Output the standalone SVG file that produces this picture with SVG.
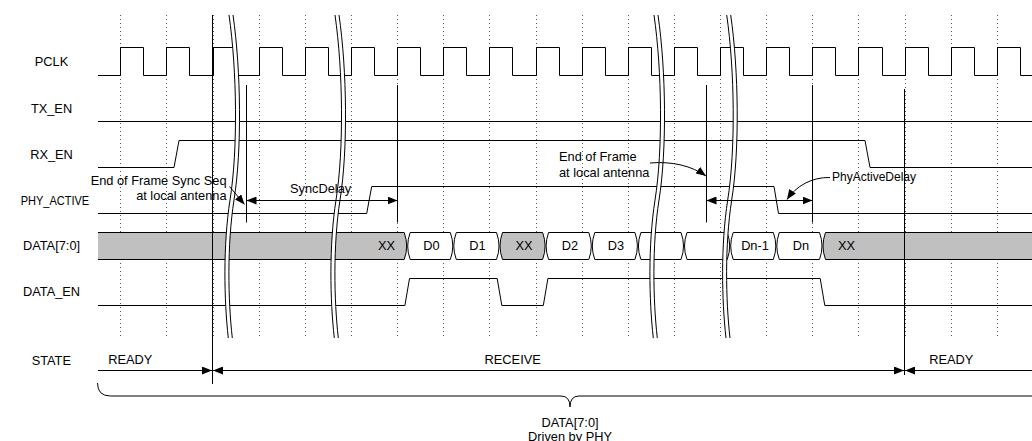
<svg xmlns="http://www.w3.org/2000/svg" xmlns:xlink="http://www.w3.org/1999/xlink" width="1032" height="441" viewBox="0 0 1032 441">
<style>
text{font-family:"Liberation Sans",Arial,sans-serif;font-size:12.8px;fill:#000}
.lbl{text-anchor:middle}
.mid{text-anchor:middle}
.end{text-anchor:end}
.grid{stroke:#555;stroke-width:1;stroke-dasharray:1 3;fill:none}
.sig{fill:none;stroke:#000;stroke-width:1}
.seg{fill:#fff;stroke:#000;stroke-width:1}
.gfill{fill:#c0c0c0;stroke:none}
.ln{fill:none;stroke:#000;stroke-width:1}
</style>
<defs>
<marker id="ah" viewBox="0 0 10 8" refX="10" refY="4" markerWidth="10" markerHeight="8" markerUnits="userSpaceOnUse" orient="auto-start-reverse"><path d="M0,0 L10,4 L0,8 z" fill="#000"/></marker>
<g id="brk">
<path d="M0,15 C8,70 9,150 1,200 C-6,245 -5,300 -0.7,338 L3.3,338 C-1,300 -2,245 5,200 C13,150 12,70 4,15 Z" fill="#fff" stroke="none"/>
<path d="M0,15 C8,70 9,150 1,200 C-6,245 -5,300 -0.7,338 M4,15 C12,70 13,150 5,200 C-2,245 -1,300 3.3,338" fill="none" stroke="#000" stroke-width="1"/>
</g>
</defs>
<rect width="1032" height="441" fill="#fff"/>
<g id="grid">
<path class="grid" d="M120.5,15V338M166.5,15V338M213.5,15V338M259.5,15V338M305.5,15V338M351.5,15V338M397.5,15V338M443.5,15V338M489.5,15V338M536.5,15V338M582.5,15V338M628.5,15V338M674.5,15V338M720.5,15V338M766.5,15V338M812.5,15V338M858.5,15V338M905.5,15V338M951.5,15V338M997.5,15V338"/>
</g>
<g id="pclk">
<text class="lbl" x="51.5" y="66">PCLK</text>
<path class="sig" d="M98,75.5 H120.5 V47.5 H143.5 V75.5 H166.5 V47.5 H189.5 V75.5 H213.5 V47.5 H236.5 V75.5 H259.5 V47.5 H282.5 V75.5 H305.5 V47.5 H328.5 V75.5 H351.5 V47.5 H374.5 V75.5 H397.5 V47.5 H420.5 V75.5 H443.5 V47.5 H466.5 V75.5 H489.5 V47.5 H512.5 V75.5 H536.5 V47.5 H559.5 V75.5 H582.5 V47.5 H605.5 V75.5 H628.5 V47.5 H651.5 V75.5 H674.5 V47.5 H697.5 V75.5 H720.5 V47.5 H743.5 V75.5 H766.5 V47.5 H789.5 V75.5 H812.5 V47.5 H835.5 V75.5 H858.5 V47.5 H882.5 V75.5 H905.5 V47.5 H928.5 V75.5 H951.5 V47.5 H974.5 V75.5 H997.5 V47.5 H1020.5 V75.5 H1032"/>
</g>
<g id="tx_en">
<text class="lbl" x="51.5" y="113">TX_EN</text>
<path class="sig" d="M98,121.5 H1032"/>
</g>
<g id="rx_en">
<text class="lbl" x="51.5" y="159">RX_EN</text>
<path class="sig" d="M98,167.5 H174 L179,140.5 H865 L870,167.5 H1032"/>
</g>
<g id="phy_active">
<text x="20.7" y="205" textLength="68.5" lengthAdjust="spacingAndGlyphs">PHY_ACTIVE</text>
<path class="sig" d="M98,213.5 H366.7 L371.7,186.5 H774 L778.5,213.5 H1032"/>
</g>
<g id="data">
<text class="lbl" x="51.5" y="250">DATA[7:0]</text>
<path class="gfill" d="M98,232.5 H404.2 Q409.2,246 404.2,259.5 H98 Z"/>
<path class="ln" d="M98,232.5 H404.2 Q409.2,246 404.2,259.5 H98"/>
<path class="seg" d="M410.2,232.5 H450.3 Q455.3,246 450.3,259.5 H410.2 Q405.2,246 410.2,232.5 Z"/>
<path class="seg" d="M456.3,232.5 H496.5 Q501.5,246 496.5,259.5 H456.3 Q451.3,246 456.3,232.5 Z"/>
<path class="seg" style="fill:#c0c0c0" d="M502.5,232.5 H542.6 Q547.6,246 542.6,259.5 H502.5 Q497.5,246 502.5,232.5 Z"/>
<path class="seg" d="M548.6,232.5 H588.8 Q593.8,246 588.8,259.5 H548.6 Q543.6,246 548.6,232.5 Z"/>
<path class="seg" d="M594.8,232.5 H634.9 Q639.9,246 634.9,259.5 H594.8 Q589.8,246 594.8,232.5 Z"/>
<path class="seg" d="M640.9,232.5 H681 Q686,246 681,259.5 H640.9 Q635.9,246 640.9,232.5 Z"/>
<path class="seg" d="M687,232.5 H727.2 Q732.2,246 727.2,259.5 H687 Q682,246 687,232.5 Z"/>
<path class="seg" d="M733.2,232.5 H773.3 Q778.3,246 773.3,259.5 H733.2 Q728.2,246 733.2,232.5 Z"/>
<path class="seg" d="M779.3,232.5 H819.5 Q824.5,246 819.5,259.5 H779.3 Q774.3,246 779.3,232.5 Z"/>
<path class="gfill" d="M1032,232.5 H825.5 Q820.5,246 825.5,259.5 H1032 Z"/>
<path class="ln" d="M1032,232.5 H825.5 Q820.5,246 825.5,259.5 H1032"/>
<text class="end" x="395" y="250">XX</text>
<text class="mid" x="431.5" y="250">D0</text>
<text class="mid" x="477.5" y="250">D1</text>
<text class="mid" x="524" y="250">XX</text>
<text class="mid" x="570" y="250">D2</text>
<text class="mid" x="616" y="250">D3</text>
<text class="mid" x="755" y="250">Dn-1</text>
<text class="mid" x="801" y="250">Dn</text>
<text x="838" y="250">XX</text>
</g>
<g id="data_en">
<text class="lbl" x="51.5" y="295.5">DATA_EN</text>
<path class="sig" d="M98,305.5 H404.9 L409.5,278.5 H497.2 L501.8,305.5 H543.3 L547.9,278.5 H820.2 L824.8,305.5 H1032"/>
</g>
<g id="breaks">
<use xlink:href="#brk" x="229"/>
<use xlink:href="#brk" x="335"/>
<use xlink:href="#brk" x="654"/>
<use xlink:href="#brk" x="726.7"/>
</g>
<g id="state">
<text class="lbl" x="51.3" y="365">STATE</text>
<text x="108.3" y="363.5">READY</text>
<text class="mid" x="512.7" y="363.5">RECEIVE</text>
<text x="929.3" y="363.5">READY</text>
</g>
<g id="markers">
<path class="ln" d="M212.5,15 V384"/>
<path class="ln" d="M904.5,89 V375"/>
<path class="ln" d="M246.5,85 V222.5"/>
<path class="ln" d="M397.5,85 V222.5"/>
<path class="ln" d="M706.5,85 V222.5"/>
<path class="ln" d="M812.5,85 V222.5"/>
</g>
<g id="annotations">
<text class="end" x="226.5" y="185">End of Frame Sync Seq</text>
<text class="end" x="226.5" y="200">at local antenna</text>
<text x="290" y="192.5">SyncDelay</text>
<text x="559" y="161">End of Frame</text>
<text x="559" y="176.5">at local antenna</text>
<text x="832" y="181" style="font-size:12px">PhyActiveDelay</text>
</g>
<g id="connectors">
<path class="ln" d="M229.5,186.5 L244.5,204.5" marker-end="url(#ah)"/>
<path class="ln" d="M246.5,200.5 H397.5" marker-start="url(#ah)" marker-end="url(#ah)"/>
<path class="ln" d="M650,163 C672,161 692,166 706,176" marker-end="url(#ah)"/>
<path class="ln" d="M706.5,200.5 H812.5" marker-start="url(#ah)" marker-end="url(#ah)"/>
<path class="ln" d="M830,177.5 C812,177 796,186 787,199.5" marker-end="url(#ah)"/>
<path class="ln" d="M98,370.5 H212" marker-end="url(#ah)"/>
<path class="ln" d="M213,370.5 H904" marker-start="url(#ah)" marker-end="url(#ah)"/>
<path class="ln" d="M905,370.5 H1032" marker-start="url(#ah)"/>
</g>
<g id="brace">
<path class="ln" d="M97.5,383 Q97.5,396 110.5,396 H561 Q570,396 570,407 Q570,396 579,396 H1032"/>
<text class="mid" x="570" y="427">DATA[7:0]</text>
<text class="mid" x="570" y="441">Driven by PHY</text>
</g>
</svg>
